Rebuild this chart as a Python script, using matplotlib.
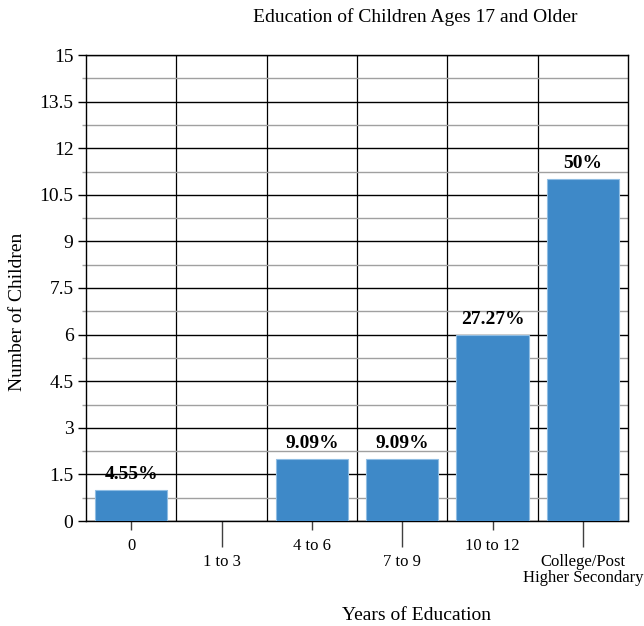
import numpy as np
import matplotlib.pyplot as plt
from matplotlib.ticker import MultipleLocator, FixedLocator, FixedFormatter

plt.rcParams['font.family'] = ['Liberation Serif', 'DejaVu Serif']

categories = ['0', '1 to 3', '4 to 6', '7 to 9', '10 to 12', 'College/Post\nHigher Secondary']
children = [1, 0, 2, 2, 6, 11]
percent_labels = ['4.55%', '', '9.09%', '9.09%', '27.27%', '50%']

fig = plt.figure(figsize=(6.44, 6.26), dpi=100)
ax = fig.add_axes([86/644, 1-521/626, 542/644, 466/626])

x = np.arange(len(categories))
bars = ax.bar(x, children, width=0.8, color='#3e89c8', edgecolor='#8fbde3', linewidth=0.8, zorder=3)
for b, lab in zip(bars, percent_labels):
    if lab:
        ax.text(b.get_x() + b.get_width()/2, b.get_height() + 0.22, lab,
                ha='center', va='bottom', fontsize=14, fontweight='bold', zorder=4)

ax.set_xlim(-0.5, len(categories) - 0.5)
ax.set_ylim(0, 15)

# gridlines: black at 1.5, grey at the halves
ax.yaxis.set_minor_locator(MultipleLocator(0.75))
ax.set_yticks([0, 1.5, 3, 4.5, 6, 7.5, 9, 10.5, 12, 13.5, 15])
ax.set_yticklabels(['0', '1.5', '3', '4.5', '6', '7.5', '9', '10.5', '12', '13.5', '15'])
ax.grid(axis='y', which='major', color='black', linewidth=1.0, zorder=1)
ax.grid(axis='y', which='minor', color='#a0a0a0', linewidth=1.0, zorder=1)
ax.tick_params(axis='y', which='major', length=6, width=1, labelsize=14, pad=3)
ax.tick_params(axis='y', which='minor', length=3, width=1, color='#a0a0a0')
for xv in np.arange(0.5, len(categories) - 0.5, 1):
    ax.axvline(xv, color='black', linewidth=0.9, zorder=1)

# staggered x tick labels
even = [i for i in x if i % 2 == 0]
odd = [i for i in x if i % 2 == 1]
ax.xaxis.set_major_locator(FixedLocator(even))
ax.xaxis.set_major_formatter(FixedFormatter([categories[i] for i in even]))
ax.xaxis.set_minor_locator(FixedLocator(odd))
ax.xaxis.set_minor_formatter(FixedFormatter([categories[i] for i in odd]))
ax.tick_params(axis='x', which='major', length=6.5, width=1, color='#404040', labelsize=12, pad=6)
ax.tick_params(axis='x', which='minor', length=19, width=1, color='#404040', labelsize=12, pad=4.5)
for t in ax.xaxis.get_minorticklabels():
    t.set_linespacing(1.05)

for s in ax.spines.values():
    s.set_color('black')
    s.set_linewidth(1.0)

fig.text(18/644, 1-312/626, 'Number of Children', ha='center', va='center', rotation=90, fontsize=14)
fig.text(416/644, 1-615/626, 'Years of Education', ha='center', va='center', fontsize=14)
fig.text(415/644, 1-17/626, 'Education of Children Ages 17 and Older', ha='center', va='center', fontsize=14)

fig.savefig('out.png', dpi=100)
